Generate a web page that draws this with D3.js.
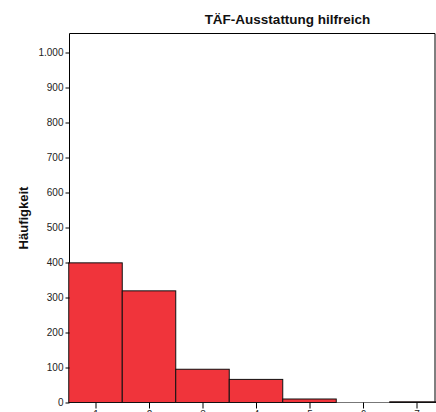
<!DOCTYPE html>
<html><head><meta charset="utf-8">
<script src="https://cdn.jsdelivr.net/npm/d3@7"></script>
<style>
html,body{margin:0;padding:0;background:#fff;overflow:hidden;}
svg{display:block;font-family:"Liberation Sans",Arial,sans-serif;}
</style></head>
<body>
<svg id="c" width="436" height="412"></svg>
<script>
const title = "TÄF-Ausstattung hilfreich";
const yLabel = "Häufigkeit";
const categories = [1, 2, 3, 4, 5, 6, 7];
const counts = [399, 319, 95, 66, 10, 0, 2];
const yTicks = [0, 100, 200, 300, 400, 500, 600, 700, 800, 900, 1000];

const svg = d3.select("#c");
const x = d3.scaleLinear().domain([0.5, 7.5]).range([68.75, 443.25]);
const y = d3.scaleLinear().domain([0, 1000]).range([402.5, 52.5]);
const frameL = 69.5, frameT = 33.5, frameR = 435, frameB = y(0);

// frame
svg.append("line").attr("x1", frameL).attr("x2", frameR).attr("y1", frameB).attr("y2", frameB)
  .attr("stroke", "#777").attr("stroke-width", 1);
svg.append("path")
  .attr("d", `M${frameL},${frameB}V${frameT}H${frameR}V${frameB}`)
  .attr("fill", "none").attr("stroke", "#000").attr("stroke-width", 1);

// bars
svg.append("g").selectAll("rect").data(categories).join("rect")
  .attr("x", (d) => x(d - 0.5))
  .attr("width", (d) => x(d + 0.5) - x(d - 0.5))
  .attr("y", (d, i) => y(counts[i]))
  .attr("height", (d, i) => y(0) - y(counts[i]))
  .attr("fill", "#f0343b")
  .attr("stroke", "#111").attr("stroke-width", 1);

// y axis
const fmt = (v) => v >= 1000 ? d3.format(",")(v).replace(/,/g, ".") : String(v);
const yAxis = d3.axisLeft(y).tickValues(yTicks).tickSize(4).tickPadding(2).tickFormat(fmt);
const gy = svg.append("g").attr("transform", `translate(${frameL},0)`).call(yAxis);
gy.select(".domain").remove();
gy.selectAll("text").attr("font-size", 10).attr("fill", "#222").attr("font-family", "Liberation Sans, Arial, sans-serif");
gy.selectAll("line").attr("stroke", "#000");

// x axis
const xAxis = d3.axisBottom(x).tickValues(categories).tickSize(6).tickPadding(2).tickFormat(d3.format("d"));
const gx = svg.append("g").attr("transform", `translate(0,${frameB})`).call(xAxis);
gx.select(".domain").remove();
gx.selectAll("text").attr("font-size", 10).attr("fill", "#222").attr("font-family", "Liberation Sans, Arial, sans-serif");
gx.selectAll("line").attr("stroke", "#000");

// title
svg.append("text").attr("x", 287.5).attr("y", 24).attr("text-anchor", "middle")
  .attr("font-size", 13.5).attr("font-weight", "bold").attr("fill", "#111").text(title);

// y label
svg.append("text").attr("transform", "translate(28,218) rotate(-90)").attr("text-anchor", "middle")
  .attr("font-size", 13).attr("font-weight", "bold").attr("fill", "#111").text(yLabel);
</script>
</body></html>
